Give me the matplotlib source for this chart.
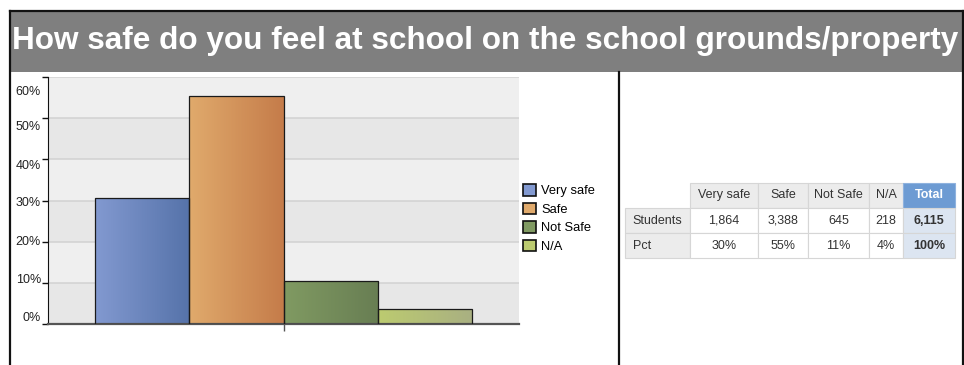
import numpy as np
import matplotlib
matplotlib.use("Agg")
import matplotlib.pyplot as plt
import matplotlib.transforms as mtransforms
from matplotlib.patches import Rectangle, Patch
from matplotlib.lines import Line2D
from matplotlib.colors import LinearSegmentedColormap

# data
title = "How safe do you feel at school on the school grounds/property"
categories = ["Very safe", "Safe", "Not Safe", "N/A"]
pct = [30.5, 55.4, 10.5, 3.6]
students = ["1,864", "3,388", "645", "218"]
pct_labels = ["30%", "55%", "11%", "4%"]
total_students = "6,115"
total_pct = "100%"
yticks = [0, 10, 20, 30, 40, 50, 60]

# gradient colours (left -> right) per bar
grad_colors = [("#8299d0", "#5673aa"), ("#e0aa6c", "#c57c4a"),
               ("#809a62", "#687e53"), ("#bccb70", "#a9b082")]

plt.rcParams["font.family"] = ["Liberation Sans", "DejaVu Sans"]
W, H = 964, 365
fig = plt.figure(figsize=(W / 100, H / 100), dpi=100)


def fx(px):
    return px / W


def fy(py):
    return 1 - py / H


# title band and frame
fig.patches.append(Rectangle((fx(10), fy(72)), fx(953), 60 / H, transform=fig.transFigure,
                             facecolor="#7f7f7f", edgecolor="none", zorder=0))
fig.text(fx(485), fy(41), title, color="white", fontsize=22.7, fontweight="bold",
         ha="center", va="center")
for xs, ys in [([10, 10], [11, 365]), ([963, 963], [11, 365]),
               ([10, 963], [11, 11]), ([619, 619], [72, 365])]:
    fig.lines.append(Line2D([fx(x) for x in xs], [fy(y) for y in ys],
                            transform=fig.transFigure, color="#111111", lw=1.6))

# bar chart
ax = fig.add_axes([fx(48), fy(323.7), fx(471), (323.7 - 77.3) / H])
for i in range(6):
    ax.axhspan(i * 10, i * 10 + 10, color="#e7e7e7" if i % 2 == 0 else "#efefef", lw=0, zorder=0)
for t in yticks[1:]:
    ax.axhline(t, color="#d2d2d2", lw=1.1, zorder=1)

x = np.arange(len(categories))
bars = ax.bar(x, pct, width=1.0, facecolor="none", edgecolor="#1a1a1a", lw=0.9, zorder=3)
for b, (c0, c1) in zip(bars, grad_colors):
    cmap = LinearSegmentedColormap.from_list("g", [c0, c1])
    img = ax.imshow(np.linspace(0, 1, 64).reshape(1, -1), cmap=cmap, aspect="auto",
                    extent=(b.get_x(), b.get_x() + b.get_width(), 0, b.get_height()),
                    zorder=2)
    img.set_clip_path(b)
ax.set_xlim(-1, 4)
ax.set_ylim(0, 60)

ax.set_yticks(yticks)
ax.set_yticklabels([f"{t}%" for t in yticks], fontsize=9, color="#222222")
ax.tick_params(axis="y", length=4, width=1, color="#111111", pad=1)
# the original renderer spaces its labels a little tighter than the grid
shifts = [7, 4, 1, -1, -5, -7, -13]
for lab, s in zip(ax.get_yticklabels(), shifts):
    lab.set_transform(lab.get_transform() + mtransforms.ScaledTranslation(0, s / 100, fig.dpi_scale_trans))
ax.set_xticks([1.5])
ax.set_xticklabels([""])
ax.tick_params(axis="x", length=5, width=1, color="#555555")
for s in ["top", "right"]:
    ax.spines[s].set_visible(False)
ax.spines["left"].set_color("#111111")
ax.spines["bottom"].set_color("#555555")
ax.spines["bottom"].set_linewidth(1.6)

handles = [Patch(facecolor=c[0], edgecolor="#111111", lw=1.2) for c in grad_colors]
fig.legend(handles, categories, loc="upper left", bbox_to_anchor=(fx(523), fy(184)),
           frameon=False, fontsize=9.3, handlelength=1.0, handleheight=1.0,
           handletextpad=0.4, labelspacing=0.42, borderpad=0, borderaxespad=0)

# table
tax = fig.add_axes([fx(625), fy(258.3), fx(330), (258.3 - 182.7) / H])
tax.axis("off")
cell_text = [[""] + categories + ["Total"],
             ["Students"] + students + [total_students],
             ["Pct"] + pct_labels + [total_pct]]
col_w = np.array([65, 68, 50, 61, 34, 52], dtype=float)
tbl = tax.table(cellText=cell_text, bbox=[0, 0, 1, 1], colWidths=list(col_w / col_w.sum()),
                cellLoc="center")
tbl.auto_set_font_size(False)
tbl.set_fontsize(9)
for (r, c), cell in tbl.get_celld().items():
    cell.set_edgecolor("#d6d6d6")
    cell.set_linewidth(0.8)
    cell.get_text().set_color("#333333")
    if r == 0 and c == 0:
        cell.set_edgecolor("white")
        cell.set_facecolor("white")
    elif r == 0 and c == 5:
        cell.set_facecolor("#6d9bd3")
        cell.set_edgecolor("#8fb2de")
        cell.get_text().set_color("white")
        cell.get_text().set_fontweight("bold")
    elif r == 0 or c == 0:
        cell.set_facecolor("#ececec")
    elif c == 5:
        cell.set_facecolor("#dce5f1")
        cell.get_text().set_fontweight("bold")
    else:
        cell.set_facecolor("white")
    if c == 0 and r > 0:
        cell.get_text().set_ha("left")
        cell.PAD = 0.12

fig.savefig("out.png", dpi=100)
